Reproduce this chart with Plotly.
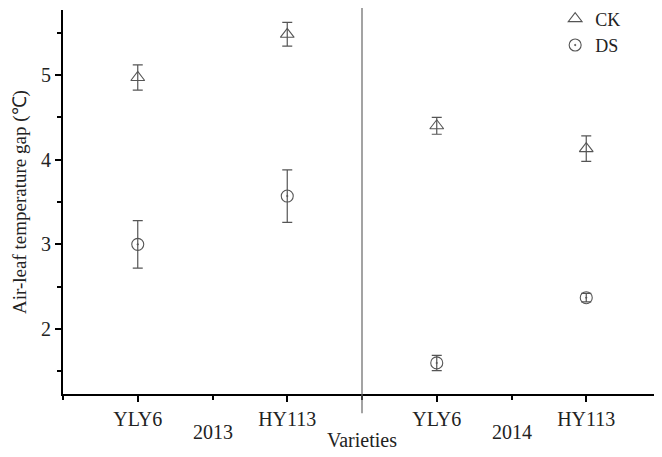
import plotly.graph_objects as go

posiciones = [1, 2, 3, 4]
variedades = ["YLY6", "HY113", "YLY6", "HY113"]
anios = ["2013", "2014"]
posiciones_anios = [1.5, 3.5]

ck_media = [4.97, 5.48, 4.40, 4.13]
ck_error = [0.15, 0.14, 0.10, 0.15]
ds_media = [3.00, 3.57, 1.60, 2.37]
ds_error = [0.28, 0.31, 0.09, 0.05]

FUENTE = "Liberation Serif, Times New Roman, serif"
GRIS = "#555555"
TEXTO = "#222222"

fig = go.Figure()

fig.add_trace(go.Scatter(
    x=posiciones, y=ck_media, mode="markers", name="CK",
    marker=dict(symbol="triangle-up-open", size=12, color=GRIS, line=dict(width=1.1)),
    error_y=dict(type="data", array=ck_error, color=GRIS, thickness=1.2, width=5),
))
fig.add_trace(go.Scatter(
    x=posiciones, y=ds_media, mode="markers", name="DS",
    marker=dict(symbol="circle-open-dot", size=12, color=GRIS, line=dict(width=1.1)),
    error_y=dict(type="data", array=ds_error, color=GRIS, thickness=1.2, width=5),
))

# linea divisoria entre años
fig.add_shape(type="line", xref="x", yref="paper", x0=2.5, x1=2.5, y0=-0.05, y1=1.03,
              line=dict(color="#666666", width=1.2))

for pos, anio in zip(posiciones_anios, anios):
    fig.add_annotation(x=pos, y=-0.1, xref="x", yref="paper", text=anio, showarrow=False,
                       yanchor="middle", font=dict(family=FUENTE, size=20, color=TEXTO))

fig.add_annotation(x=2.5, y=-0.12, xref="x", yref="paper", text="Varieties", showarrow=False,
                   yanchor="middle", font=dict(family=FUENTE, size=20, color=TEXTO))
fig.add_annotation(x=-0.072, y=0.5, xref="paper", yref="paper", text="Air-leaf temperature gap (℃)",
                   showarrow=False, textangle=-90, xanchor="center", yanchor="middle",
                   font=dict(family=FUENTE, size=19, color=TEXTO))

# la pagina tiene un margen de 8px en el body, se compensa aqui
fig.update_layout(
    width=654, height=449,
    margin=dict(l=55, r=1, t=2, b=63, autoexpand=False),
    plot_bgcolor="white", paper_bgcolor="white",
    font=dict(family=FUENTE, size=20, color=TEXTO),
    showlegend=True,
    legend=dict(x=0.823, y=1.025, xanchor="left", yanchor="top", bgcolor="rgba(0,0,0,0)",
                font=dict(family=FUENTE, size=18), itemwidth=30, tracegroupgap=0),
    xaxis=dict(
        range=[0.5, 4.5], tickvals=posiciones, ticktext=variedades, automargin=False,
        showline=True, linecolor="black", linewidth=2, ticks="outside", ticklen=6,
        tickwidth=2, tickcolor="black", showgrid=False, zeroline=False,
        minor=dict(dtick=0.5, tick0=0.5, ticks="outside", ticklen=4, tickwidth=1.5, tickcolor="black", showgrid=False),
    ),
    yaxis=dict(
        range=[1.233, 5.767], tickvals=[2, 3, 4, 5], automargin=False,
        showline=True, linecolor="black", linewidth=2, ticks="outside", ticklen=6,
        tickwidth=2, tickcolor="black", showgrid=False, zeroline=False,
        minor=dict(tickvals=[1.5, 2.5, 3.5, 4.5, 5.5], ticks="outside", ticklen=4, tickwidth=1.5, tickcolor="black", showgrid=False),
    ),
)

fig.write_html("out.html")
